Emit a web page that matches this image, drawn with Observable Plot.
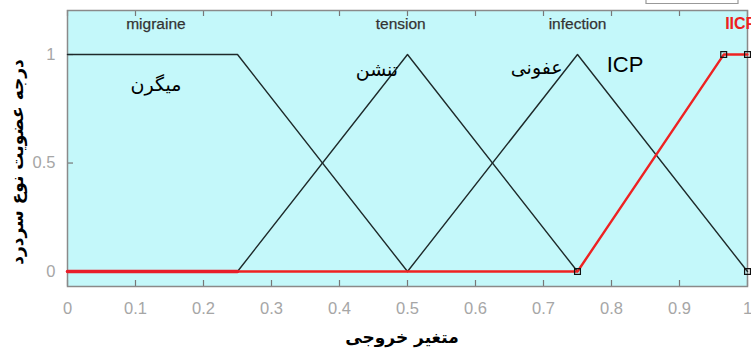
<!DOCTYPE html>
<html>
<head>
<meta charset="utf-8">
<script src="https://cdn.jsdelivr.net/npm/d3@7"></script>
<script src="https://cdn.jsdelivr.net/npm/@observablehq/plot@0.6"></script>
<style>
  html, body { margin: 0; padding: 0; background: #fff; }
  #chart { width: 751px; height: 352px; overflow: hidden; }
</style>
</head>
<body>
<div id="chart"></div>
<script>
// ---- data ----
const migraineX = [0, 0.25, 0.5];
const migraineY = [1, 1, 0];
const tensionX = [0.25, 0.5, 0.75];
const tensionY = [0, 1, 0];
const infectionX = [0.5, 0.75, 1];
const infectionY = [0, 1, 0];
const icpX = [0, 0.25, 0.75, 0.965, 1];
const icpY = [0, 0, 0, 1, 1];
const icpThickX = [0, 0.25];
const icpThickY = [0, 0];
const markerX = [0.75, 0.965, 1, 1];
const markerY = [0, 1, 1, 0];

const xTicks = [0, 0.1, 0.2, 0.3, 0.4, 0.5, 0.6, 0.7, 0.8, 0.9, 1];
const xTickLabels = ["0", "0.1", "0.2", "0.3", "0.4", "0.5", "0.6", "0.7", "0.8", "0.9", "1"];
const yTicks = [0, 0.5, 1];
const yTickLabels = ["0", "0.5", "1"];

const mfNames = ["migraine", "tension", "infection"];
const mfNameX = [0.13, 0.49, 0.75];
const activeName = ["IICP"];
const activeNameX = [0.99];
const persianLabels = ["میگرن", "تنشن", "عفونی"];
const persianX = [0.13, 0.455, 0.69];
const persianY = [0.86, 0.93, 0.94];
const icpLabel = ["ICP"];
const icpLabelX = [0.82];
const icpLabelY = [0.95];

const xLabel = "متغیر خروجی";
const yLabel = "درجه عضویت نوع سردرد";

const toPts = (xs, ys) => xs.map((x, i) => ({x, y: ys[i]}));
const blackSeries = [
  toPts(migraineX, migraineY),
  toPts(tensionX, tensionY),
  toPts(infectionX, infectionY)
];

const tickFmt = (arr, labels) => d => labels[arr.indexOf(d)];

const W = 751, H = 352, ML = 67, MR = 4, MT = 10, MB = 66;
const panelW = W - ML - MR, panelH = H - MT - MB;

const plot = Plot.plot({
  width: W,
  height: H,
  marginLeft: ML,
  marginRight: MR,
  marginTop: MT,
  marginBottom: MB,
  style: {background: "#fff", fontFamily: "Liberation Sans, Arial, sans-serif"},
  x: {domain: [0, 1]},
  y: {domain: [-0.069, 1.203]},
  marks: [
    Plot.frame({fill: "#c4f8fa", stroke: null}),
    // tick labels
    Plot.axisX({anchor: "bottom", ticks: xTicks, tickSize: 0, tickFormat: tickFmt(xTicks, xTickLabels),
      tickPadding: 16, fontSize: 16.5, fill: "#a6a6a6", label: null}),
    Plot.axisY({anchor: "left", ticks: yTicks, tickSize: 0, tickFormat: tickFmt(yTicks, yTickLabels),
      tickPadding: 12, fontSize: 16.5, fill: "#a6a6a6", label: null}),
    // inward ticks
    Plot.tickX(xTicks, {x: d => d, insetTop: panelH - 6, stroke: "#777", strokeWidth: 1.2}),
    Plot.tickX(xTicks, {x: d => d, insetBottom: panelH - 6, stroke: "#777", strokeWidth: 1.2}),
    Plot.tickY(yTicks, {y: d => d, insetRight: panelW - 6, stroke: "#777", strokeWidth: 1.2}),
    Plot.frame({stroke: "#8a8a8a", strokeWidth: 1.5}),
    // membership functions
    ...blackSeries.map(s => Plot.line(s, {x: "x", y: "y", stroke: "#1e2a2a", strokeWidth: 1.4})),
    Plot.line(toPts(icpX, icpY), {x: "x", y: "y", stroke: "#ee2222", strokeWidth: 2.4}),
    Plot.line(toPts(icpThickX, icpThickY), {x: "x", y: "y", stroke: "#e81e2a", strokeWidth: 3.5}),
    Plot.dot(toPts(markerX, markerY), {x: "x", y: "y", symbol: "square", r: 3.3, stroke: "#111", fill: "none", strokeWidth: 1.2}),
    // English names
    Plot.text(mfNames, {x: (d, i) => mfNameX[i], y: 1.14, text: d => d,
      fill: "#333", fontSize: 15.5, stroke: "#333", strokeWidth: 0.25}),
    Plot.text(activeName, {x: (d, i) => activeNameX[i], y: 1.14, text: d => d,
      fill: "#ee2020", fontWeight: "bold", fontSize: 16}),
    // Persian labels
    Plot.text(persianLabels, {x: (d, i) => persianX[i], y: (d, i) => persianY[i], text: d => d,
      fill: "#000", fontSize: 19, fontFamily: "DejaVu Sans, serif"}),
    Plot.text(icpLabel, {x: (d, i) => icpLabelX[i], y: (d, i) => icpLabelY[i], text: d => d,
      fill: "#000", fontSize: 22, fontFamily: "Liberation Sans, Arial, sans-serif"})
  ]
});

const svg = d3.select(plot);
// fragment of a box above the panel (top right)
svg.append("path")
  .attr("d", "M646,0V3.5H738V0")
  .attr("fill", "none").attr("stroke", "#999").attr("stroke-width", 1.2);
// axis titles
svg.append("text")
  .attr("x", 402).attr("y", 343)
  .attr("text-anchor", "middle")
  .attr("font-family", "DejaVu Sans, serif")
  .attr("font-size", 17).attr("font-weight", "bold")
  .attr("fill", "#000")
  .attr("direction", "rtl")
  .text(xLabel);
svg.append("text")
  .attr("transform", "translate(23,162) rotate(-90)")
  .attr("text-anchor", "middle")
  .attr("font-family", "DejaVu Sans, serif")
  .attr("font-size", 17).attr("font-weight", "bold")
  .attr("fill", "#000")
  .attr("direction", "rtl")
  .text(yLabel);

document.getElementById("chart").appendChild(plot);
</script>
</body>
</html>
